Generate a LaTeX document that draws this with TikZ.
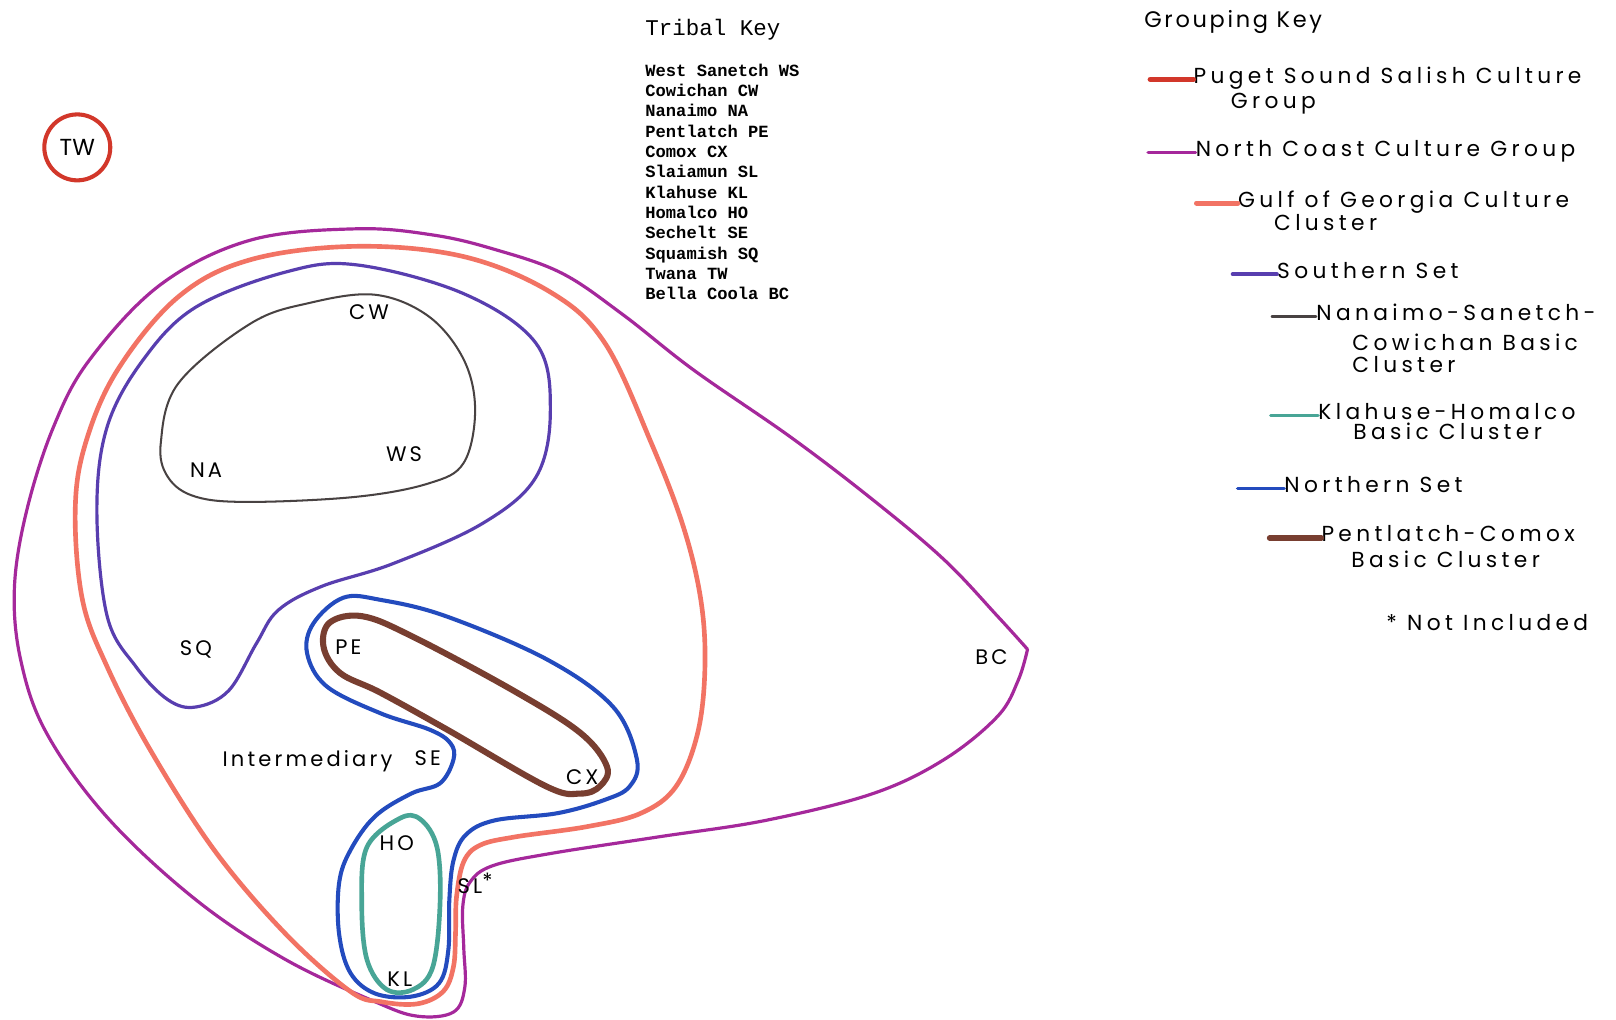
\documentclass[tikz,border=0pt]{standalone}
\usepackage{fontspec}
\setmainfont{Poppins}
\setmonofont{Liberation Mono}
\newfontfamily\keyfont[LetterSpace=20]{Poppins}
\newfontfamily\headfont[LetterSpace=12]{Poppins}
\newfontfamily\labelfont[LetterSpace=15]{Poppins}
\usepackage{tikz}
\usetikzlibrary{positioning}

\definecolor{pugetred}{RGB}{210,55,42}
\definecolor{northcoast}{RGB}{165,40,155}
\definecolor{gulfsalmon}{RGB}{242,115,100}
\definecolor{southindigo}{RGB}{88,62,175}
\definecolor{nscgrey}{RGB}{72,66,66}
\definecolor{khteal}{RGB}{72,165,150}
\definecolor{northblue}{RGB}{35,75,190}
\definecolor{pcbrown}{RGB}{120,62,48}

\begin{document}
\begin{tikzpicture}[x=0.025cm, y=-0.025cm,
  region/.style={line join=round, line cap=round},
  tribe/.style={font=\labelfont\fontsize{14.5}{16}\selectfont, inner sep=0pt},
  keytxt/.style={anchor=mid west, font=\keyfont\fontsize{15}{17}\selectfont, inner sep=0pt},
  keyline/.style={line width=3pt, line cap=round}
]

% Background and frame size
\fill[white] (0,0) rectangle (1568,989);
\useasboundingbox (0,0) rectangle (1568,989);

% --- North Coast Culture Group ---
\draw[region, northcoast, line width=2.2pt] plot[smooth, tension=0.6] coordinates {
  (997,630) (988,660) (968,695) (916,737) (847,770) (743,796) (639,812) (535,828)
  (478,840) (456,856) (449,880) (450,920) (451,958) (440,982) (405,986) (364,972)
  (277,931) (190,873) (104,793) (45,711) (20,640) (14,570) (26,495) (52,414)
  (87,349) (156,276) (243,233) (346,222) (420,228) (480,242) (545,265) (604,305)
  (673,359) (767,424) (847,485) (916,543) (968,598) (997,630)};

% --- Gulf of Georgia Culture Cluster ---
\draw[region, gulfsalmon, line width=3.2pt] plot[smooth cycle, tension=0.6] coordinates {
  (346,239) (450,249) (535,284) (587,333) (632,430) (663,511) (680,582) (684,647)
  (677,711) (656,763) (622,789) (570,802) (500,812) (466,820) (450,836) (443,870)
  (442,905) (440,938) (430,962) (405,974) (370,972) (340,962) (277,906) (208,825)
  (146,728) (104,647) (80,582) (73,495) (83,430) (114,359) (173,288) (243,252)};

% --- Southern Set ---
\draw[region, southindigo, line width=2.2pt] plot[smooth cycle, tension=0.6] coordinates {
  (346,257) (450,285) (520,333) (534,398) (520,463) (468,508) (381,547) (312,569)
  (270,592) (249,624) (222,670) (190,686) (163,679) (132,647) (104,598) (94,495)
  (104,414) (139,349) (190,298) (277,264)};

% --- Nanaimo-Sanetch-Cowichan ---
\draw[region, nscgrey, line width=1.4pt] plot[smooth cycle, tension=0.6] coordinates {
  (364,286) (416,307) (450,349) (461,398) (450,449) (416,469) (346,482) (243,487)
  (190,482) (163,463) (156,430) (173,372) (243,314) (300,294)};

% --- Northern Set ---
\draw[region, northblue, line width=2.8pt] plot[smooth cycle, tension=0.6] coordinates {
  (333,580) (369,582) (433,598) (531,640) (595,686) (618,737) (611,763) (587,776)
  (541,789) (480,796) (452,810) (440,835) (436,873) (435,922) (426,954) (399,967)
  (364,964) (340,944) (329,906) (329,857) (340,825) (364,792) (399,770) (427,760)
  (440,737) (437,721) (417,708) (369,692) (317,666) (298,634) (304,605)};

% --- Pentlatch-Comox ---
\draw[region, pcbrown, line width=4.2pt] plot[smooth cycle, tension=0.6] coordinates {
  (320,604) (352,598) (401,618) (498,670) (563,711) (589,744) (582,763) (563,770)
  (530,763) (434,708) (369,672) (330,653) (314,628)};

% --- Klahuse-Homalco ---
\draw[region, khteal, line width=3.2pt] plot[smooth cycle, tension=0.6] coordinates {
  (388,794) (408,795) (424,822) (427,876) (420,938) (401,960) (375,960) (356,931)
  (351,876) (356,822)};

% --- Twana ---
\node[tribe, font=\fontsize{16}{18}\selectfont] (tw) at (75,143) {TW};
\draw[pugetred, line width=2.8pt] (75,143) circle (32);

% --- Tribe labels ---
\node[tribe] (cw) at (358,303) {CW};
\node[tribe] (ws) at (392,441) {WS};
\node[tribe] (na) at (200,456) {NA};
\node[tribe] (sq) at (190,630) {SQ};
\node[tribe] (pe) at (338,628) {PE};
\node[tribe] (cx) at (565,754) {CX};
\node[tribe] (se) at (415,736) {SE};
\node[tribe, anchor=east] (inter) at (381,739) {Intermediary};
\node[tribe] (ho) at (385,818) {HO};
\node[tribe] (kl) at (388,950) {KL};
\node[tribe] (sl) at (461,857) {SL\raisebox{3pt}{*}};
\node[tribe] (bc) at (962,638) {BC};

% --- Tribal Key ---
\node[anchor=base west, inner sep=0pt, font=\ttfamily\fontsize{15.5}{18}\selectfont] (tkey) at (626,34) {Tribal Key};
\node[anchor=north west, inner sep=0pt, align=left, font=\ttfamily\bfseries\fontsize{11.8}{14.04}\selectfont] (tlist) at (626,61.5)
  {West Sanetch WS\\Cowichan CW\\Nanaimo NA\\Pentlatch PE\\Comox CX\\Slaiamun SL\\Klahuse KL\\Homalco HO\\Sechelt SE\\Squamish SQ\\Twana TW\\Bella Coola BC};

% --- Grouping Key ---
\node[anchor=mid west, inner sep=0pt, font=\headfont\fontsize{15.5}{18}\selectfont] (gkey) at (1110,23) {Grouping Key};

\node[keytxt] (puget) at (1158,77) {Puget Sound Salish Culture};
\node[keytxt] (puget2) at (1194,101) {Group};
\draw[keyline, pugetred, line width=3.5pt] (puget.mid west) -- ++(-42,0);

\node[keytxt] (ncoast) at (1160,148) {North Coast Culture Group};
\draw[keyline, northcoast, line width=2.4pt] (ncoast.mid west) -- ++(-46,0);

\node[keytxt] (gulf) at (1201,197) {Gulf of Georgia Culture};
\node[keytxt] (gulf2) at (1236,220) {Cluster};
\draw[keyline, gulfsalmon, line width=3.5pt] (gulf.mid west) -- ++(-40,0);

\node[keytxt] (south) at (1239,266) {Southern Set};
\draw[keyline, southindigo, line width=2.6pt] (south.mid west) -- ++(-43,0);

\node[keytxt] (nsc) at (1277,307) {Nanaimo-Sanetch-};
\node[keytxt] (nsc2) at (1312,336) {Cowichan Basic};
\node[keytxt] (nsc3) at (1312,358) {Cluster};
\draw[keyline, nscgrey, line width=1.6pt] (nsc.mid west) -- ++(-43,0);

\node[keytxt] (kh) at (1279,403) {Klahuse-Homalco};
\node[keytxt] (kh2) at (1313,423) {Basic Cluster};
\draw[keyline, khteal, line width=2.4pt] (kh.mid west) -- ++(-46,0);

\node[keytxt] (north) at (1246,474) {Northern Set};
\draw[keyline, northblue, line width=2.6pt] (north.mid west) -- ++(-45,0);

\node[keytxt] (pc) at (1282,522) {Pentlatch-Comox};
\node[keytxt] (pc2) at (1311,547) {Basic Cluster};
\draw[keyline, pcbrown, line width=4pt] (pc.mid west) -- ++(-50,0);

\node[keytxt] (notinc) at (1345,608) {* Not Included};

\end{tikzpicture}
\end{document}
